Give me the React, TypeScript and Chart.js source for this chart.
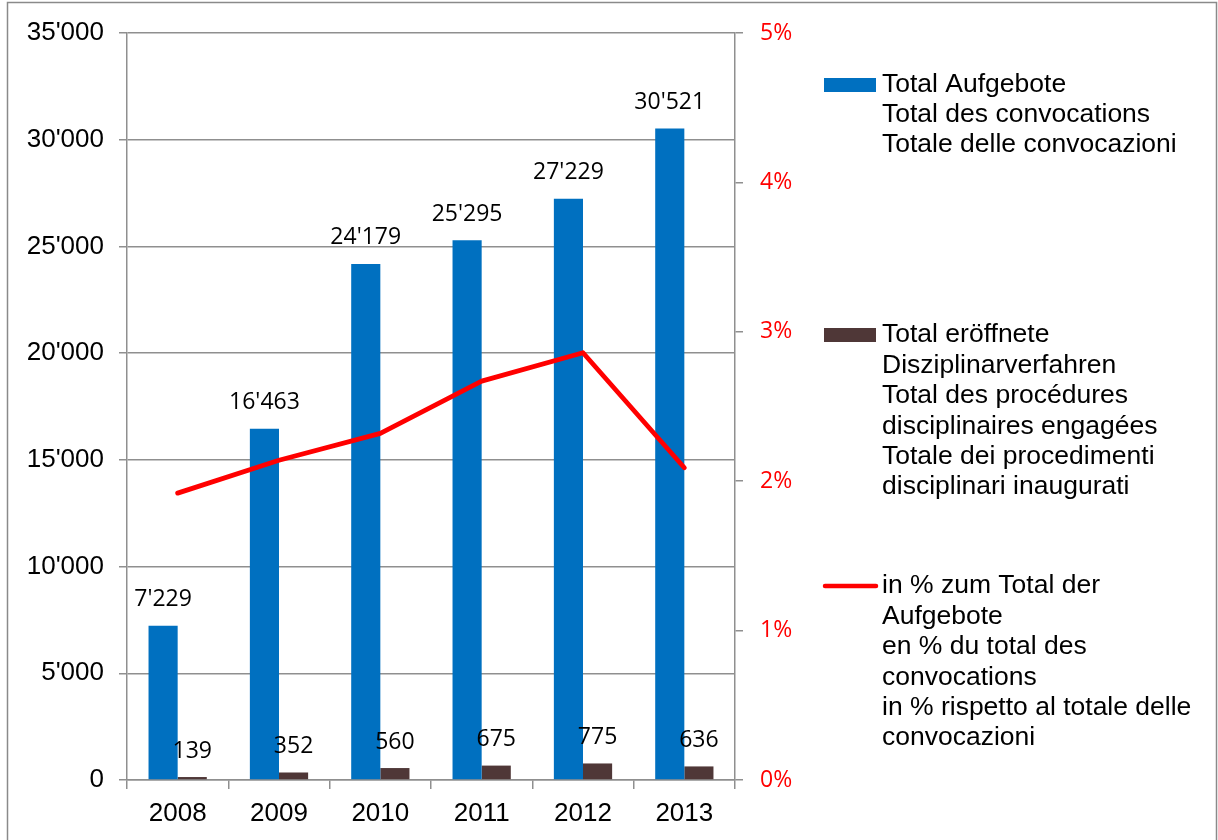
import React, { useEffect, useRef } from "react";
import { Chart, registerables } from "chart.js";

Chart.register(...registerables);

const years = ["2008", "2009", "2010", "2011", "2012", "2013"];
const totalAufgebote = [7229, 16463, 24179, 25295, 27229, 30521];
const disziplinar = [139, 352, 560, 675, 775, 636];
const prozent = [1.92, 2.14, 2.32, 2.67, 2.86, 2.09];

const leftTicks = [0, 5000, 10000, 15000, 20000, 25000, 30000, 35000];
const rightTicks = [0, 1, 2, 3, 4, 5];

const legendBlue = ["Total Aufgebote", "Total des convocations", "Totale delle convocazioni"];
const legendBrown = [
  "Total eröffnete",
  "Disziplinarverfahren",
  "Total des procédures",
  "disciplinaires engagées",
  "Totale dei procedimenti",
  "disciplinari inaugurati",
];
const legendRed = [
  "in % zum Total der",
  "Aufgebote",
  "en % du total des",
  "convocations",
  "in % rispetto al totale delle",
  "convocazioni",
];

const BLUE = "#0070C0";
const BROWN = "#4F3737";
const RED = "#FF0000";
const GRID = "#8f8f8f";
const ARIAL = "'Liberation Sans', Arial, sans-serif";
const CAL = "'Open Sans', 'Noto Sans', sans-serif";

const fmt = (v: number) => {
  const s = Math.round(v).toString();
  return s.replace(/\B(?=(\d{3})+(?!\d))/g, "'");
};

export default function App() {
  const ref = useRef<HTMLCanvasElement | null>(null);

  useEffect(() => {
    if (!ref.current) return;

    const bgPlugin = {
      id: "bg",
      beforeDraw(chart: any) {
        const ctx = chart.ctx;
        ctx.save();
        ctx.fillStyle = "#ffffff";
        ctx.fillRect(0, 0, chart.width, chart.height);
        ctx.restore();
      },
      afterDraw(chart: any) {
        const ctx = chart.ctx;
        ctx.save();
        ctx.strokeStyle = "#8a8a8a";
        ctx.lineWidth = 1.5;
        ctx.strokeRect(7.5, 2.5, 1209, 850);
        ctx.restore();
      },
    };

    const labelPlugin = {
      id: "barLabels",
      afterDatasetsDraw(chart: any) {
        const ctx = chart.ctx;
        ctx.save();
        ctx.font = `23px ${CAL}`;
        ctx.fillStyle = "#000";
        ctx.textAlign = "center";
        ctx.textBaseline = "middle";
        [0, 1].forEach((di) => {
          const meta = chart.getDatasetMeta(di);
          const data = chart.data.datasets[di].data as number[];
          meta.data.forEach((el: any, i: number) => {
            ctx.fillText(fmt(data[i]), el.x, el.y - 26);
          });
        });
        ctx.restore();
      },
    };

    const legendPlugin = {
      id: "customLegend",
      afterDraw(chart: any) {
        const ctx = chart.ctx;
        ctx.save();
        ctx.font = `26.5px ${ARIAL}`;
        ctx.fillStyle = "#000";
        ctx.textAlign = "left";
        ctx.textBaseline = "middle";
        // blue
        ctx.fillStyle = BLUE;
        ctx.fillRect(824, 78, 52, 14);
        ctx.fillStyle = "#000";
        legendBlue.forEach((t, i) => ctx.fillText(t, 882, 85 + i * 30));
        // brown
        ctx.fillStyle = BROWN;
        ctx.fillRect(824, 328, 52, 14);
        ctx.fillStyle = "#000";
        legendBrown.forEach((t, i) => ctx.fillText(t, 882, 335 + i * 30.4));
        // red line
        ctx.strokeStyle = RED;
        ctx.lineWidth = 4.5;
        ctx.lineCap = "round";
        ctx.beginPath();
        ctx.moveTo(825, 586);
        ctx.lineTo(876, 586);
        ctx.stroke();
        legendRed.forEach((t, i) => ctx.fillText(t, 882, 586 + i * 30.4));
        ctx.restore();
      },
    };

    const chart = new Chart(ref.current, {
      type: "bar",
      data: {
        labels: years,
        datasets: [
          {
            label: legendBlue.join(" "),
            data: totalAufgebote,
            backgroundColor: BLUE,
            yAxisID: "y",
            order: 2,
            categoryPercentage: 0.575,
            barPercentage: 1.0,
          },
          {
            label: legendBrown.join(" "),
            data: disziplinar,
            backgroundColor: BROWN,
            yAxisID: "y",
            order: 2,
            categoryPercentage: 0.575,
            barPercentage: 1.0,
          },
          {
            type: "line",
            label: legendRed.join(" "),
            data: prozent,
            borderColor: RED,
            backgroundColor: RED,
            borderWidth: 4.8,
            pointRadius: 0,
            borderCapStyle: "round",
            borderJoinStyle: "round",
            tension: 0,
            yAxisID: "y1",
            order: 0,
          } as any,
        ],
      },
      options: {
        responsive: false,
        animation: false,
        devicePixelRatio: 1,
        layout: { padding: { left: 8, top: 33, right: 423, bottom: 10 } },
        plugins: {
          legend: { display: false },
          tooltip: { enabled: false },
          title: { display: false },
        },
        scales: {
          x: {
            type: "category",
            offset: true,
            grid: {
              offset: true,
              drawOnChartArea: false,
              drawTicks: true,
              tickLength: 9,
              color: GRID,
              lineWidth: 1.5,
            },
            border: { color: GRID, width: 1.5 },
            ticks: { font: { family: ARIAL, size: 26 }, color: "#000", padding: 9 },
            afterFit(scale: any) {
              scale.height = 50;
            },
          },
          y: {
            position: "left",
            min: 0,
            max: 35000,
            afterBuildTicks(scale: any) {
              scale.ticks = leftTicks.map((v) => ({ value: v }));
            },
            grid: { color: GRID, lineWidth: 1.5, tickLength: 8 },
            border: { color: GRID, width: 1.5 },
            ticks: {
              font: { family: ARIAL, size: 26 },
              color: "#000",
              padding: 15,
              callback: (v: any) => fmt(Number(v)),
            },
            afterFit(scale: any) {
              scale.width = 119;
            },
          },
          y1: {
            position: "right",
            min: 0,
            max: 5,
            afterBuildTicks(scale: any) {
              scale.ticks = rightTicks.map((v) => ({ value: v }));
            },
            grid: { drawOnChartArea: false, color: GRID, lineWidth: 1.5, tickLength: 8 },
            border: { color: GRID, width: 1.5 },
            ticks: {
              font: { family: CAL, size: 23 },
              color: RED,
              padding: 17,
              callback: (v: any) => `${Math.round(Number(v))}%`,
            },
            afterFit(scale: any) {
              scale.width = 60;
            },
          },
        },
      } as any,
      plugins: [bgPlugin, labelPlugin, legendPlugin],
    });

    return () => chart.destroy();
  }, []);

  return (
    <div style={{ position: "absolute", left: 0, top: 0, width: 1218, height: 840 }}>
      <canvas ref={ref} width={1218} height={840} style={{ width: 1218, height: 840 }} />
    </div>
  );
}
